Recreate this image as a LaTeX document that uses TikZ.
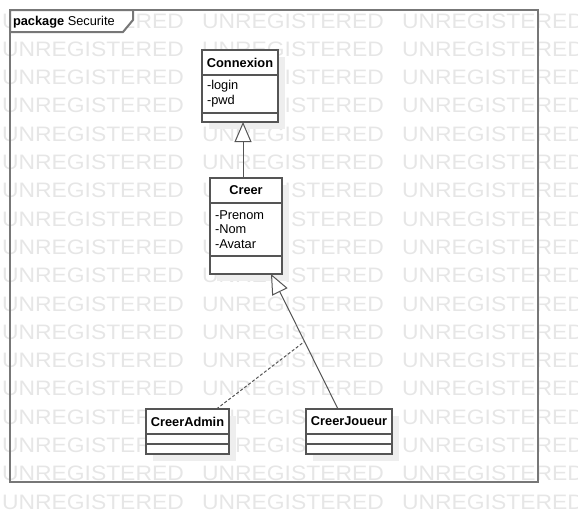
\documentclass[tikz,border=0pt]{standalone}
\usepackage{fontspec}
\setmainfont{Liberation Sans}
\usepackage{graphicx}
\usepackage{tikz}
\usetikzlibrary{arrows.meta,positioning,shadows}
\definecolor{umlline}{HTML}{555555}
\definecolor{umlframe}{HTML}{777777}
\definecolor{umlshadow}{HTML}{EEEEEE}
\definecolor{watermarkgray}{HTML}{E6E6E6}
\tikzset{
  every node/.style={
    font=\fontsize{12.8}{14.7}\selectfont,
    inner sep=0pt,
    outer sep=0pt
  },
  classpart/.style={
    shape=rectangle,
    draw=umlline,
    line width=2pt,
    fill=white,
    drop shadow={shadow xshift=7pt,shadow yshift=-7pt,fill=umlshadow,opacity=1}
  },
  classname/.style={
    classpart,
    minimum height=25pt,
    font=\fontsize{12.8}{14.7}\selectfont\bfseries
  },
  classattr/.style n args={2}{
    classpart,
    minimum width=#1,
    minimum height=#2,
    text width=#1-10pt,
    align=left
  },
  classops/.style n args={2}{
    classpart,
    minimum width=#1,
    minimum height=#2
  },
  generalization/.style={
    draw=umlline,
    line width=1pt,
    -{Triangle[length=20pt,width=17pt,fill=white]}
  },
  realization/.style={
    draw=umlline,
    line width=1pt,
    dash pattern=on 3pt off 2pt
  },
  packageframe/.style={
    draw=umlframe,
    line width=2pt
  },
  watermark/.style={
    anchor=base west,
    text=watermarkgray,
    font=\fontsize{20.9}{25}\selectfont
  }
}

\begin{document}
\begin{tikzpicture}[x=1pt,y=-1pt]
  \useasboundingbox (0,0) rectangle (578,522);
  \foreach \row in {0,...,17} {
    \foreach \col in {0,1,2} {
      \node [watermark] (wm-\row-\col) at (2+200*\col,28+28.3*\row) {\scalebox{1.095}[1]{UNREGISTERED}};
    }
  }

  \draw [packageframe] (10,10) rectangle (538,482);
  \draw [packageframe,fill=white] (10,10) -- (133,10) -- (133,20) -- (123,32) -- (10,32) -- cycle;
  \node [anchor=base west] (pkg-label) at (13,25.5) {\textbf{package} Securite};

  \node [classname,minimum width=76pt] (connexion) at (240,62.5) {Connexion};
  \node [classattr={76pt}{38pt},below=0pt of connexion] (connexion-attr) {-login\\-pwd};
  \node [classops={76pt}{9pt},below=0pt of connexion-attr] (connexion-ops) {};

  \node [classname,minimum width=72pt] (creer) at (246,190.5) {Creer};
  \node [classattr={72pt}{53pt},below=0pt of creer] (creer-attr) {-Prenom\\-Nom\\-Avatar};
  \node [classops={72pt}{18pt},below=0pt of creer-attr] (creer-ops) {};

  \node [classname,minimum width=83pt] (creeradmin) at (187.5,421.5) {CreerAdmin};
  \node [classattr={83pt}{10pt},below=0pt of creeradmin] (creeradmin-attr) {};
  \node [classops={83pt}{10pt},below=0pt of creeradmin-attr] (creeradmin-ops) {};

  \node [classname,minimum width=86pt] (creerjoueur) at (349,421.5) {CreerJoueur};
  \node [classattr={86pt}{10pt},below=0pt of creerjoueur] (creerjoueur-attr) {};
  \node [classops={86pt}{10pt},below=0pt of creerjoueur-attr] (creerjoueur-ops) {};

  \draw [generalization] ([xshift=-3pt]creer.north) -- ([xshift=3pt]connexion-ops.south);
  \draw [generalization] ([xshift=-11pt]creerjoueur.north) -- coordinate (join) ([xshift=25pt]creer-ops.south);
  \draw [realization] ([xshift=29pt]creeradmin.north) -- (join);
\end{tikzpicture}
\end{document}
